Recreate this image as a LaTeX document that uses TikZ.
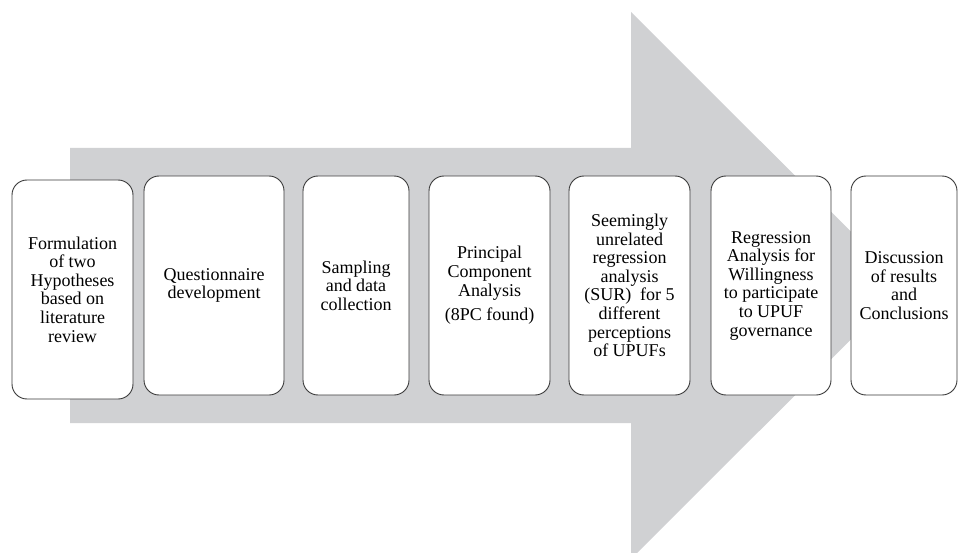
\documentclass[tikz,border=0pt]{standalone}
\usepackage{fontspec}
\setmainfont{Liberation Serif}
\definecolor{arrowgray}{HTML}{D0D1D3}
\definecolor{boxline}{HTML}{3A3A3A}
\begin{document}
\begin{tikzpicture}[x=1pt,y=-1pt,
  stepbox/.style={draw=boxline, line width=0.9pt, fill=white, rounded corners=15pt,
    inner sep=0pt, align=center, font=\fontsize{18}{18.6}\selectfont}]
\useasboundingbox (0,0) rectangle (960,553);
\fill[arrowgray] (70,148) -- (631,148) -- (631,12) -- (905,285.5) -- (631,559) -- (631,423) -- (70,423) -- cycle;
\node[stepbox, minimum width=121pt, minimum height=219pt] (b1) at (72.5,289.5)
  {Formulation\\of two\\Hypotheses\\based on\\literature\\review};
\node[stepbox, minimum width=140pt, minimum height=219pt] (b2) at (214,285.5)
  {Questionnaire\\development};
\node[stepbox, minimum width=106pt, minimum height=219pt] (b3) at (356,285.5)
  {Sampling\\and data\\collection};
\node[stepbox, minimum width=121pt, minimum height=219pt] (b4) at (489.5,285.5)
  {Principal\\Component\\Analysis\\[6pt](8PC found)};
\node[stepbox, minimum width=121pt, minimum height=219pt] (b5) at (629.5,285.5)
  {Seemingly\\unrelated\\regression\\analysis\\(SUR)~ for 5\\different\\perceptions\\of UPUFs};
\node[stepbox, minimum width=120pt, minimum height=219pt] (b6) at (771,285.5)
  {Regression\\Analysis for\\Willingness\\to participate\\to UPUF\\governance};
\node[stepbox, minimum width=106pt, minimum height=219pt] (b7) at (904,285.5)
  {Discussion\\of results\\and\\Conclusions};
\end{tikzpicture}
\end{document}
